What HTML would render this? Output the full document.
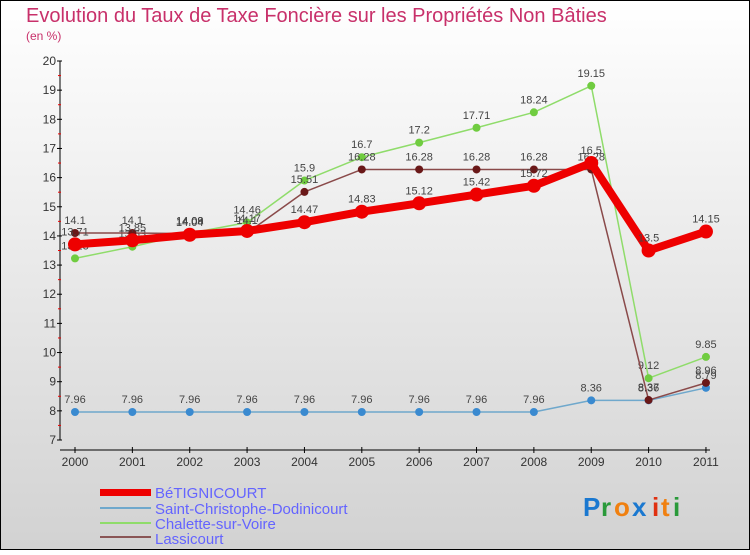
<!DOCTYPE html>
<html><head><meta charset="utf-8"><style>
body{margin:0}
svg text{font-family:"Liberation Sans",sans-serif}
</style></head><body>
<svg width="750" height="550" viewBox="0 0 750 550" xmlns="http://www.w3.org/2000/svg">
<defs><linearGradient id="bg" x1="0" y1="0" x2="0" y2="1"><stop offset="0" stop-color="#ffffff"/><stop offset="1" stop-color="#d2d2d2"/></linearGradient></defs>
<rect x="0.5" y="0.5" width="749" height="549" fill="url(#bg)" stroke="#000"/>
<text x="26" y="22" font-size="20" fill="#c8306a">Evolution du Taux de Taxe Foncière sur les Propriétés Non Bâties</text>
<text x="26" y="40" font-size="12" fill="#c8306a">(en %)</text>
<g id="axes"></g>
<g id="series"></g>
<g id="legend">
<rect x="100" y="489" width="51" height="7" fill="#e00"/>
<text x="155" y="498" font-size="15" fill="#6464ff">BéTIGNICOURT</text>
<rect x="100" y="507" width="51" height="2" fill="#6fa8cc"/>
<text x="155" y="514" font-size="15" fill="#6464ff">Saint-Christophe-Dodinicourt</text>
<rect x="100" y="522" width="51" height="2" fill="#8fdc6a"/>
<text x="155" y="529" font-size="15" fill="#6464ff">Chalette-sur-Voire</text>
<rect x="100" y="536" width="51" height="2" fill="#8a5555"/>
<text x="155" y="544" font-size="15" fill="#6464ff">Lassicourt</text>
</g>
<g font-size="26" font-weight="bold">
<text x="583" y="516" fill="#1a78d0">P</text><text x="601" y="516" fill="#2a9a3a">r</text><text x="614" y="516" fill="#f08010">o</text><text x="632" y="516" fill="#1a78d0">x</text><text x="652" y="516" fill="#e03010">i</text><text x="661" y="516" fill="#f08010">t</text><text x="673" y="516" fill="#2a9a3a">i</text>
</g>
</svg>
<script>
const years=["2000","2001","2002","2003","2004","2005","2006","2007","2008","2009","2010","2011"];
const yTicks=[7,8,9,10,11,12,13,14,15,16,17,18,19,20];
const betignicourt=[13.71,13.85,14.04,14.17,14.47,14.83,15.12,15.42,15.72,16.5,13.5,14.15];
const saintChristophe=[7.96,7.96,7.96,7.96,7.96,7.96,7.96,7.96,7.96,8.36,8.36,8.79];
const chalette=[13.23,13.63,14.09,14.46,15.9,16.7,17.2,17.71,18.24,19.15,9.12,9.85];
const lassicourt=[14.1,14.1,14.08,14.1,15.51,16.28,16.28,16.28,16.28,16.28,8.37,8.96];
const NS="http://www.w3.org/2000/svg";
const X=i=>75+i*57.36;
const Y=v=>61+(20-v)*(379/13);
function mk(t,a,p){const e=document.createElementNS(NS,t);for(const k in a)e.setAttribute(k,a[k]);p.appendChild(e);return e;}
const axes=document.getElementById('axes');
let yl=mk('line',{x1:60,y1:61,x2:60,y2:440,stroke:'#000'},axes);


let xl=mk('line',{x1:60,y1:450,x2:710,y2:450,stroke:'#000'},axes);


yTicks.forEach((v,i)=>{
 mk('line',{x1:57,x2:62,y1:Y(v),y2:Y(v),stroke:'#000'},axes);
 if(i<yTicks.length-1) mk('line',{x1:58,x2:61,y1:Y(v+0.5),y2:Y(v+0.5),stroke:'#e00'},axes);
 const t=mk('text',{x:56,y:Y(v)+4,'font-size':12,'text-anchor':'end',fill:'#333'},axes);
 t.textContent=v;
 
 
});
years.forEach((y,i)=>{
 mk('line',{x1:X(i),x2:X(i),y1:447,y2:453,stroke:'#000'},axes);
 const t=mk('text',{x:X(i),y:466,'font-size':12,'text-anchor':'middle',fill:'#333'},axes);
 t.textContent=y;
 
 
});
const sg=document.getElementById('series');
function draw(data,color,w,r,name,dot){
 const g=mk('g',{},sg);
 
 
 const pl=mk('polyline',{points:data.map((v,i)=>X(i)+','+Y(v)).join(' '),fill:'none',stroke:color,'stroke-width':w,'stroke-linejoin':'round'},g);
 
 
 data.forEach((v,i)=>{
  const c=mk('circle',{cx:X(i),cy:Y(v),r:r,fill:dot},g);
  
  
  const t=mk('text',{x:X(i),y:Y(v)-9,'font-size':11,'text-anchor':'middle',fill:'#444'},g);
  t.textContent=v;
  
  
 });
}
draw(saintChristophe,'#6fa8cc',1.5,4,'saint-christophe','#3a8ad0');
draw(chalette,'#8fdc6a',1.5,4,'chalette','#70cc40');
draw(lassicourt,'#8a4a4a',1.5,4,'lassicourt','#6a1818');
draw(betignicourt,'#ee0000',8,7,'betignicourt','#ee0000');
</script>
</body></html>
